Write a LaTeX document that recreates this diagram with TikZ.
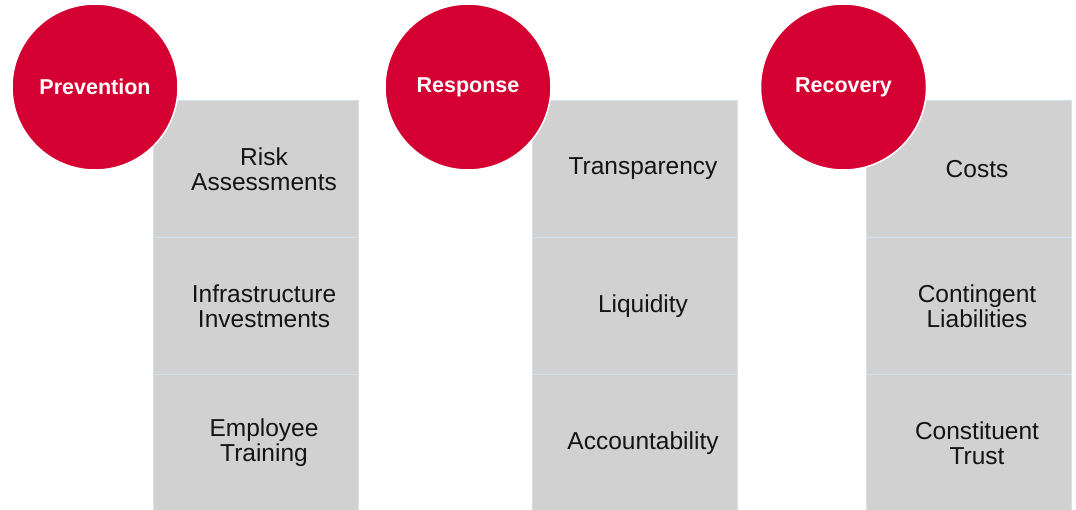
\documentclass[tikz,border=0pt]{standalone}
\usepackage{fontspec}
\setmainfont{Liberation Sans}
\usetikzlibrary{positioning}
\definecolor{phasered}{HTML}{D50032}
\definecolor{boxgrey}{HTML}{D1D1D1}
\definecolor{edgeblue}{HTML}{D3E0EE}
\tikzstyle{phase} = [circle, minimum size=166pt, inner sep=0pt, fill=phasered, draw=white, line width=1.5pt, text=white, font=\fontsize{21.5}{25}\selectfont\bfseries]
\tikzstyle{item} = [rectangle, minimum width=205pt, minimum height=137pt, inner sep=0pt, fill=boxgrey, draw=edgeblue, line width=0.8pt]
\tikzstyle{itemtext} = [align=center, text=black!92, font=\fontsize{24.5}{25}\selectfont, xshift=8pt]

\begin{document}
\begin{tikzpicture}[x=1pt, y=-1pt, node distance=137pt]
\clip (0,0) rectangle (1076,509);

%Boxes
\node (risk) [item, label={[itemtext]center:Risk\\Assessments}] at (256,169) {};
\node (infra) [item, below of=risk, label={[itemtext]center:Infrastructure\\Investments}] {};
\node (staff) [item, below of=infra, label={[itemtext]center:Employee\\Training}] {};

\node (transp) [item, label={[itemtext]center:Transparency}] at (635,169) {};
\node (liquid) [item, below of=transp, label={[itemtext]center:Liquidity}] {};
\node (account) [item, below of=liquid, label={[itemtext]center:Accountability}] {};

\node (costs) [item, label={[itemtext]center:Costs}] at (969,169) {};
\node (contin) [item, below of=costs, label={[itemtext]center:Contingent\\Liabilities}] {};
\node (trust) [item, below of=contin, label={[itemtext]center:Constituent\\Trust}] {};

%Circles
\node (prev) [phase] at (95,87) {Prevention};
\node (resp) [phase] at (468,87) {Response};
\node (recov) [phase] at (843.5,87) {Recovery};

\end{tikzpicture}
\end{document}
